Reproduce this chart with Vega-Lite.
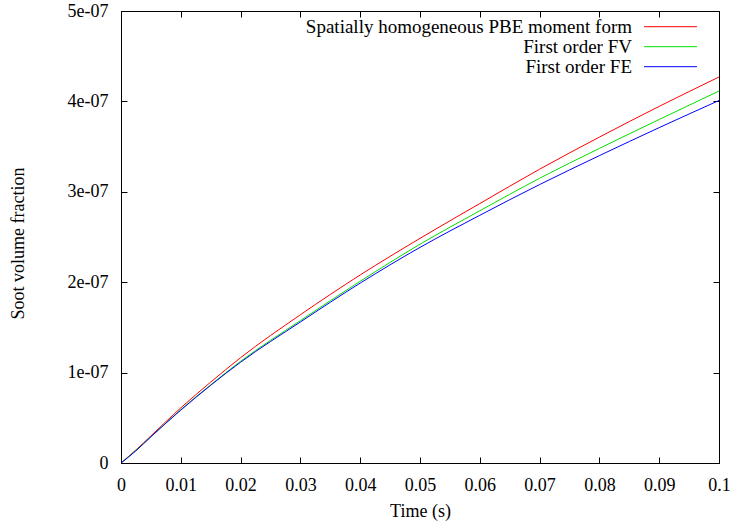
{
  "$schema": "https://vega.github.io/schema/vega-lite/v6.json",
  "width": 598,
  "height": 452,
  "autosize": {"type": "none"},
  "padding": {"left": 121, "top": 11, "right": 11, "bottom": 61},
  "background": "white",
  "config": {
    "font": "Liberation Serif",
    "view": {"stroke": "black", "strokeWidth": 1},
    "axis": {
      "grid": false,
      "domainColor": "black",
      "tickColor": "black",
      "labelColor": "black",
      "titleColor": "black",
      "labelFont": "Liberation Serif",
      "titleFont": "Liberation Serif",
      "labelFontSize": 18,
      "titleFontSize": 18,
      "titleFontWeight": "normal",
      "tickSize": -6
    },
    "legend": {
      "labelFont": "Liberation Serif",
      "labelFontSize": 19,
      "labelColor": "black"
    }
  },
  "data": {
    "values": [
      {"t": 0, "v": 0, "s": "Spatially homogeneous PBE moment form"},
      {"t": 0.0025, "v": 1.45e-8, "s": "Spatially homogeneous PBE moment form"},
      {"t": 0.005, "v": 3.0e-8, "s": "Spatially homogeneous PBE moment form"},
      {"t": 0.01, "v": 6.1e-8, "s": "Spatially homogeneous PBE moment form"},
      {"t": 0.015, "v": 8.95e-8, "s": "Spatially homogeneous PBE moment form"},
      {"t": 0.02, "v": 1.165e-7, "s": "Spatially homogeneous PBE moment form"},
      {"t": 0.03, "v": 1.64e-7, "s": "Spatially homogeneous PBE moment form"},
      {"t": 0.04, "v": 2.08e-7, "s": "Spatially homogeneous PBE moment form"},
      {"t": 0.05, "v": 2.485e-7, "s": "Spatially homogeneous PBE moment form"},
      {"t": 0.06, "v": 2.87e-7, "s": "Spatially homogeneous PBE moment form"},
      {"t": 0.07, "v": 3.25e-7, "s": "Spatially homogeneous PBE moment form"},
      {"t": 0.08, "v": 3.605e-7, "s": "Spatially homogeneous PBE moment form"},
      {"t": 0.09, "v": 3.945e-7, "s": "Spatially homogeneous PBE moment form"},
      {"t": 0.1, "v": 4.27e-7, "s": "Spatially homogeneous PBE moment form"},
      {"t": 0, "v": 0, "s": "First order FV"},
      {"t": 0.0025, "v": 1.4e-8, "s": "First order FV"},
      {"t": 0.005, "v": 2.9e-8, "s": "First order FV"},
      {"t": 0.01, "v": 5.9e-8, "s": "First order FV"},
      {"t": 0.015, "v": 8.65e-8, "s": "First order FV"},
      {"t": 0.02, "v": 1.125e-7, "s": "First order FV"},
      {"t": 0.03, "v": 1.575e-7, "s": "First order FV"},
      {"t": 0.04, "v": 2.01e-7, "s": "First order FV"},
      {"t": 0.05, "v": 2.42e-7, "s": "First order FV"},
      {"t": 0.06, "v": 2.79e-7, "s": "First order FV"},
      {"t": 0.07, "v": 3.15e-7, "s": "First order FV"},
      {"t": 0.08, "v": 3.48e-7, "s": "First order FV"},
      {"t": 0.09, "v": 3.80e-7, "s": "First order FV"},
      {"t": 0.1, "v": 4.115e-7, "s": "First order FV"},
      {"t": 0, "v": 0, "s": "First order FE"},
      {"t": 0.0025, "v": 1.35e-8, "s": "First order FE"},
      {"t": 0.005, "v": 2.9e-8, "s": "First order FE"},
      {"t": 0.01, "v": 5.85e-8, "s": "First order FE"},
      {"t": 0.015, "v": 8.6e-8, "s": "First order FE"},
      {"t": 0.02, "v": 1.115e-7, "s": "First order FE"},
      {"t": 0.03, "v": 1.56e-7, "s": "First order FE"},
      {"t": 0.04, "v": 1.99e-7, "s": "First order FE"},
      {"t": 0.05, "v": 2.385e-7, "s": "First order FE"},
      {"t": 0.06, "v": 2.74e-7, "s": "First order FE"},
      {"t": 0.07, "v": 3.08e-7, "s": "First order FE"},
      {"t": 0.08, "v": 3.40e-7, "s": "First order FE"},
      {"t": 0.09, "v": 3.71e-7, "s": "First order FE"},
      {"t": 0.1, "v": 4.01e-7, "s": "First order FE"}
    ]
  },
  "layer": [
    {
      "mark": {"type": "line", "strokeWidth": 1, "clip": true, "interpolate": "monotone"},
      "encoding": {
        "x": {
          "field": "t", "type": "quantitative",
          "scale": {"domain": [0, 0.1], "nice": false, "zero": false},
          "axis": {
            "orient": "bottom",
            "title": "Time (s)",
            "values": [0, 0.01, 0.02, 0.03, 0.04, 0.05, 0.06, 0.07, 0.08, 0.09, 0.1],
            "format": "~g",
            "labelPadding": 28,
            "labelBaseline": "middle",
            "labelFlush": false,
            "labelOverlap": false,
            "titleY": 48,
            "titleBaseline": "middle"
          }
        },
        "y": {
          "field": "v", "type": "quantitative",
          "scale": {"domain": [0, 5e-7], "nice": false},
          "axis": {
            "orient": "left",
            "title": "Soot volume fraction",
            "values": [0, 1e-7, 2e-7, 3e-7, 4e-7, 5e-7],
            "labelExpr": "datum.value == 0 ? '0' : round(datum.value * 1e7) + 'e-07'",
            "labelPadding": 19,
            "labelFlush": false,
            "labelOverlap": false,
            "titleX": -103,
            "titleY": 232,
            "titleAngle": -90,
            "titleAlign": "center",
            "titleBaseline": "middle"
          }
        },
        "color": {
          "field": "s", "type": "nominal",
          "sort": ["Spatially homogeneous PBE moment form", "First order FV", "First order FE"],
          "scale": {
            "domain": ["Spatially homogeneous PBE moment form", "First order FV", "First order FE"],
            "range": ["#ff0000", "#00e000", "#0000ff"]
          },
          "legend": {
            "title": null,
            "orient": "none",
            "legendX": 540,
            "legendY": 6.2,
            "symbolType": "M-3,0H3",
            "symbolSize": 312,
            "symbolStrokeWidth": 1,
            "rowPadding": 0,
            "labelAlign": "right",
            "labelOffset": -48,
            "labelLimit": 0,
            "padding": 0
          }
        }
      }
    },
    {
      "mark": {"type": "line", "opacity": 0},
      "encoding": {
        "x": {
          "field": "t", "type": "quantitative",
          "axis": {
            "orient": "top", "title": null, "labels": false, "domain": false,
            "values": [0, 0.01, 0.02, 0.03, 0.04, 0.05, 0.06, 0.07, 0.08, 0.09, 0.1]
          }
        },
        "y": {
          "field": "v", "type": "quantitative",
          "axis": {
            "orient": "right", "title": null, "labels": false, "domain": false,
            "values": [0, 1e-7, 2e-7, 3e-7, 4e-7, 5e-7]
          }
        },
        "detail": {"field": "s"}
      }
    }
  ]
}
